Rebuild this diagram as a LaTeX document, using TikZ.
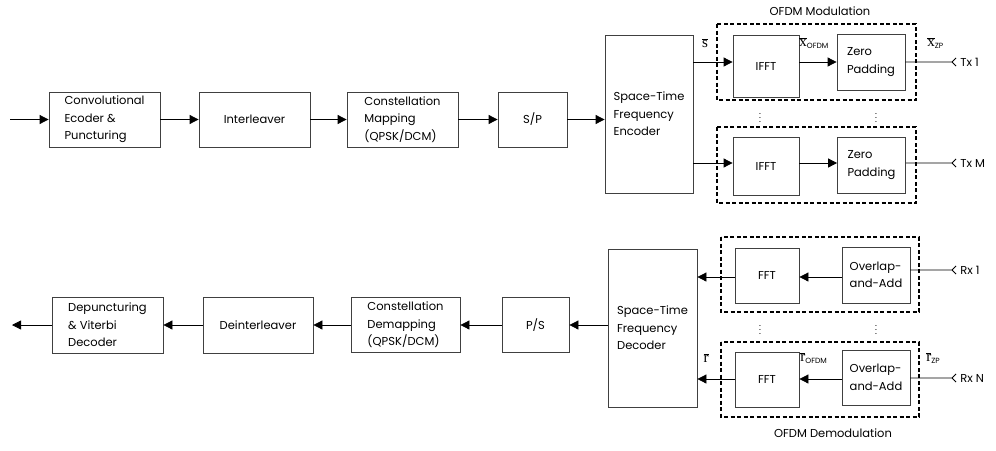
\documentclass[tikz,border=0pt]{standalone}
\usepackage{fontspec}
\setmainfont{Poppins}
\newfontfamily\sigfont{Liberation Serif}
\usetikzlibrary{arrows.meta}
\newcommand{\sublbl}[1]{\mbox{\fontsize{7.5}{8}\selectfont #1}}
\newcommand{\barsym}[1]{\overline{\mbox{\sigfont #1}}}
\tikzset{
  >={Triangle[length=9pt,width=9pt]},
  blockbox/.style={draw=black!75, line width=0.8pt, align=left, inner sep=0pt,
    font=\fontsize{11.5}{17.5}\selectfont},
  groupbox/.style={draw, line width=2pt, dash pattern=on 4pt off 2.5pt},
  link/.style={line width=0.8pt},
  sig/.style={font=\fontsize{15}{16}\selectfont, inner sep=0pt},
  plain/.style={font=\fontsize{11.5}{12}\selectfont, inner sep=1pt},
  vdotsmark/.style={font=\fontsize{9}{10}\selectfont, inner sep=0pt},
}
\begin{document}
\begin{tikzpicture}[x=1pt, y=-1pt, link]
      \useasboundingbox (0, 0) rectangle (996, 450);
      % transmitter
      \node [blockbox, minimum width=111, minimum height=55] (conv) at (104.5, 119.5)
        {Convolutional\\Ecoder \&\\Puncturing};
      \node [blockbox, minimum width=111, minimum height=55] (inter) at (254.5, 119.5)
        {Interleaver};
      \node [blockbox, minimum width=111, minimum height=55] (map) at (402.5, 119.5)
        {Constellation\\Mapping\\(QPSK/DCM)};
      \node [blockbox, minimum width=69, minimum height=55] (sp) at (532.5, 119.5) {S/P};
      \node [blockbox, minimum width=88, minimum height=158] (enc) at (649, 114)
        {Space-Time\\Frequency\\Encoder};
      \draw [groupbox] (717, 24) rectangle (916, 100);
      \draw [groupbox] (717, 127) rectangle (916, 203);
      \node [plain] (modtitle) at (820, 11) {OFDM Modulation};
      \node [blockbox, minimum width=66, minimum height=62] (ifftA) at (766, 66) {IFFT};
      \node [blockbox, minimum width=68, minimum height=56] (zpA) at (871, 62)
        {Zero\\Padding};
      \node [blockbox, minimum width=66, minimum height=58] (ifftB) at (766, 166) {IFFT};
      \node [blockbox, minimum width=68, minimum height=56] (zpB) at (871.5, 165)
        {Zero\\Padding};
      \coordinate (rowa) at (0, 62);
      \coordinate (rowb) at (0, 163);
      \coordinate (src) at (10, 119.5);
      \draw [->] (src) -- (conv.west);
      \draw [->] (conv.east) -- (inter.west);
      \draw [->] (inter.east) -- (map.west);
      \draw [->] (map.east) -- (sp.west);
      \draw [->] (sp.east) -- (sp.east -| enc.west);
      \draw [->] (enc.east |- rowa) -- (ifftA.west |- rowa);
      \draw [->] (ifftA.east |- rowa) -- (zpA.west |- rowa);
      \draw [->] (enc.east |- rowb) -- (ifftB.west |- rowb);
      \draw [->] (ifftB.east |- rowb) -- (zpB.west |- rowb);
      \coordinate (txa) at (952, 62);
      \coordinate (txb) at (952, 163);
      \draw (zpA.east |- txa) -- (txa) -- ++(4, -4) (txa) -- ++(4, 4);
      \draw (zpB.east |- txb) -- (txb) -- ++(4, -4) (txb) -- ++(4, 4);
      \node [plain, anchor=west] (txalbl) at (959, 62) {Tx 1};
      \node [plain, anchor=west] (txblbl) at (959, 163) {Tx M};
      \node [vdotsmark] (dotsa) at (760, 115) {$\vdots$};
      \node [vdotsmark] (dotsb) at (876, 115) {$\vdots$};
      \node [sig] (slbl) at (705, 43) {$\barsym{s}$};
      \node [sig, anchor=west] (xofdm) at (799, 43) {$\barsym{x}_{\sublbl{OFDM}}$};
      \node [sig, anchor=west] (xzp) at (927, 43) {$\barsym{x}_{\sublbl{ZP}}$};
      % receiver
      \node [blockbox, minimum width=89, minimum height=158] (dec) at (652.5, 328)
        {Space-Time\\Frequency\\Decoder};
      \draw [groupbox] (721, 237) rectangle (919, 312);
      \draw [groupbox] (721, 342) rectangle (919, 417);
      \node [plain] (demtitle) at (833, 433) {OFDM Demodulation};
      \node [blockbox, minimum width=64, minimum height=55] (fftA) at (767, 275.5) {FFT};
      \node [blockbox, minimum width=68, minimum height=56] (olA) at (876, 275)
        {Overlap-\\and-Add};
      \node [blockbox, minimum width=64, minimum height=55] (fftB) at (767, 379.5) {FFT};
      \node [blockbox, minimum width=68, minimum height=55] (olB) at (876, 377.5)
        {Overlap-\\and-Add};
      \node [blockbox, minimum width=67, minimum height=55] (ps) at (535.5, 325) {P/S};
      \node [blockbox, minimum width=109, minimum height=55] (demap) at (405.5, 325)
        {Constellation\\Demapping\\(QPSK/DCM)};
      \node [blockbox, minimum width=110, minimum height=56] (deint) at (258, 325)
        {Deinterleaver};
      \node [blockbox, minimum width=111, minimum height=56] (depunc) at (107.5, 325)
        {Depuncturing\\\& Viterbi\\Decoder};
      \coordinate (rowc) at (0, 277);
      \coordinate (rowd) at (0, 379);
      \coordinate (rxa) at (952, 270);
      \coordinate (rxb) at (952, 378);
      \coordinate (sink) at (12, 325);
      \draw [->] (olA.west |- rowc) -- (fftA.east |- rowc);
      \draw [->] (fftA.west |- rowc) -- (dec.east |- rowc);
      \draw [->] (olB.west |- rowd) -- (fftB.east |- rowd);
      \draw [->] (fftB.west |- rowd) -- (dec.east |- rowd);
      \draw (olA.east |- rxa) -- (rxa) -- ++(4, -4) (rxa) -- ++(4, 4);
      \draw (olB.east |- rxb) -- (rxb) -- ++(4, -4) (rxb) -- ++(4, 4);
      \node [plain, anchor=west] (rxalbl) at (959, 270) {Rx 1};
      \node [plain, anchor=west] (rxblbl) at (959, 378) {Rx N};
      \draw [->] (dec.west |- ps) -- (ps.east);
      \draw [->] (ps.west) -- (demap.east);
      \draw [->] (demap.west) -- (deint.east);
      \draw [->] (deint.west) -- (depunc.east);
      \draw [->] (depunc.west) -- (sink);
      \node [vdotsmark] (dotsc) at (760, 327) {$\vdots$};
      \node [vdotsmark] (dotsd) at (876, 327) {$\vdots$};
      \node [sig] (rlbl) at (706, 358) {$\barsym{r}$};
      \node [sig, anchor=west] (rofdm) at (800, 358) {$\barsym{r}_{\sublbl{OFDM}}$};
      \node [sig, anchor=west] (rzp) at (926, 358) {$\barsym{r}_{\sublbl{ZP}}$};
    \end{tikzpicture}
\end{document}
